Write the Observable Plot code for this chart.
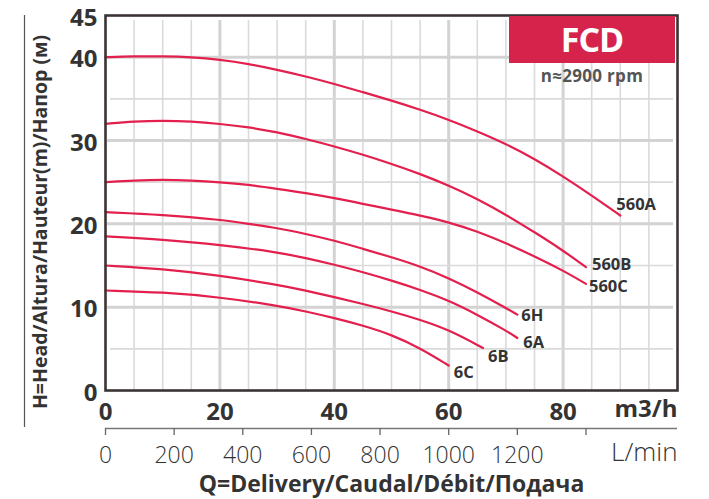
<!DOCTYPE html>
<html>
<head>
<meta charset="utf-8">
<script src="https://cdn.jsdelivr.net/npm/d3@7"></script>
<script src="https://cdn.jsdelivr.net/npm/@observablehq/plot@0.6"></script>
<style>
  body { margin: 0; background: #fff; }
  #wrap { position: relative; width: 709px; height: 499px; font-family: "Open Sans", sans-serif; }
  #badge { position: absolute; left: 509px; top: 16px; width: 166px; height: 47px; background: #d6234b;
           color: #fff; font-weight: 700; font-size: 34px; letter-spacing: -1px; text-align: center; line-height: 47px; z-index: 2; }
  #rpm { position: absolute; left: 509px; top: 64px; width: 166px; text-align: center; font-weight: 700;
         font-size: 17px; letter-spacing: 0.3px; color: #555; z-index: 2; }
</style>
</head>
<body>
<div id="wrap"><div id="badge">FCD</div><div id="rpm">n≈2900 rpm</div></div>
<script>
// ---- data (Q in m3/h, H in m) ----
const q560A = [0, 5, 10, 15, 20, 25, 30, 35, 40, 45, 50, 55, 60, 65, 70, 75, 80, 85, 90];
const h560A = [40.0, 40.1, 40.1, 40.0, 39.7, 39.2, 38.5, 37.7, 36.8, 35.8, 34.8, 33.7, 32.5, 31.1, 29.6, 27.8, 25.7, 23.4, 21.0];
const q560B = [0, 5, 10, 15, 20, 25, 30, 35, 40, 45, 50, 55, 60, 65, 70, 75, 80, 84];
const h560B = [32.0, 32.3, 32.4, 32.3, 32.0, 31.6, 31.0, 30.2, 29.3, 28.3, 27.2, 26.0, 24.6, 23.0, 21.1, 19.0, 16.8, 14.8];
const q560C = [0, 5, 10, 15, 20, 25, 30, 35, 40, 45, 50, 55, 60, 65, 70, 75, 80, 84];
const h560C = [25.0, 25.2, 25.3, 25.2, 25.0, 24.7, 24.2, 23.7, 23.1, 22.4, 21.7, 21.0, 20.2, 19.1, 17.7, 16.1, 14.4, 12.8];
const q6H = [0, 10, 20, 25, 30, 35, 40, 45, 50, 55, 60, 65, 70, 72];
const h6H = [21.4, 21.1, 20.5, 20.0, 19.5, 18.8, 18.0, 17.0, 16.0, 14.9, 13.5, 11.8, 9.9, 9.1];
const q6A = [0, 10, 20, 30, 35, 40, 45, 50, 55, 60, 65, 70, 72];
const h6A = [18.5, 18.1, 17.5, 16.6, 15.9, 15.1, 14.2, 13.2, 12.1, 10.8, 9.1, 7.2, 6.3];
const q6B = [0, 10, 20, 30, 35, 40, 45, 50, 55, 60, 66];
const h6B = [15.0, 14.6, 13.8, 12.7, 12.0, 11.2, 10.4, 9.5, 8.5, 7.3, 5.1];
const q6C = [0, 10, 20, 30, 35, 40, 45, 50, 55, 60];
const h6C = [12.0, 11.8, 11.2, 10.2, 9.5, 8.7, 7.8, 6.7, 5.1, 3.0];

const models = ["560A", "560B", "560C", "6H", "6A", "6B", "6C"];
const flows = [q560A, q560B, q560C, q6H, q6A, q6B, q6C];
const heads = [h560A, h560B, h560C, h6H, h6A, h6B, h6C];

const qTicks = [0, 20, 40, 60, 80];
const hTicks = [0, 10, 20, 30, 40, 45];
const lminTicks = [0, 200, 400, 600, 800, 1000, 1200, 1400];
const lminLabelled = [0, 200, 400, 600, 800, 1000, 1200];
const qGridMinor = [5, 10, 15, 25, 30, 35, 45, 50, 55, 65, 70, 75, 85, 90, 95];
const qGridMajor = [20, 40, 60, 80];
const hGridMinor = [5, 15, 25, 35];
const hGridMajor = [10, 20, 30, 40];

// ---- build tables ----
const curves = models.flatMap((m, i) => flows[i].map((q, j) => ({model: m, q, h: heads[i][j]})));
const ends = models.map((m, i) => ({model: m, q: flows[i][flows[i].length - 1], h: heads[i][heads[i].length - 1]}));

// label offsets (styling)
const labelOffset = {"560A": [-4, -11], "560B": [6, -2], "560C": [3, 3], "6H": [4, 1], "6A": [6, 5], "6B": [5, 9], "6C": [5, 7]};

const red = "#e3204d";
const ink = "#333";
const L_PER_M3H = 1000 / 60;

const labelMarks = ends.map(e => Plot.text([e], {
  x: "q", y: "h", text: "model", textAnchor: "start", lineAnchor: "middle",
  dx: labelOffset[e.model][0], dy: labelOffset[e.model][1],
  fontSize: 16.5, fontWeight: 700, fill: ink, letterSpacing: -0.3
}));

const chart = Plot.plot({
  width: 709, height: 499,
  marginLeft: 105, marginRight: 32, marginTop: 15, marginBottom: 109,
  x: {domain: [0, 100], axis: null},
  y: {domain: [0, 45], axis: null},
  style: {fontFamily: "'Open Sans', sans-serif", background: "#fff", overflow: "visible"},
  marks: [
    Plot.ruleX(qGridMinor, {stroke: "#dadada", strokeWidth: 1.6, insetTop: 5}),
    Plot.ruleX(qGridMajor, {stroke: "#d3d3d3", strokeWidth: 3, insetTop: 5}),
    Plot.ruleY(hGridMinor, {stroke: "#dadada", strokeWidth: 1.6, insetLeft: 5, insetRight: 4}),
    Plot.ruleY(hGridMajor, {stroke: "#d3d3d3", strokeWidth: 3, insetLeft: 2, insetRight: 4}),
    Plot.line(curves, {x: "q", y: "h", z: "model", stroke: red, strokeWidth: 2.2, curve: "basis"}),
    ...labelMarks,
    Plot.frame({stroke: "#3b3434", strokeWidth: 2.6}),
    // primary axes
    Plot.axisY({ticks: hTicks, tickSize: 0, tickPadding: 8, dy: 2.5, fontSize: 24, fontWeight: 700, fill: ink, label: null, letterSpacing: -0.5}),
    Plot.axisX({ticks: qTicks, tickSize: 0, tickPadding: 12, fontSize: 24, fontWeight: 700, fill: ink, label: null, letterSpacing: -0.5}),
    Plot.text(["m3/h"], {frameAnchor: "bottom-right", textAnchor: "end", lineAnchor: "top", dy: 9, fontSize: 24, fontWeight: 700, fill: ink, letterSpacing: -0.5}),
    // secondary L/min axis
    Plot.ruleY([0], {dy: 38, stroke: "#777", strokeWidth: 1.5}),
    Plot.axisX({
      ticks: lminTicks.map(l => l / L_PER_M3H),
      tickFormat: d => { const l = Math.round(d * L_PER_M3H); return lminLabelled.includes(l) ? String(l) : ""; },
      tickSize: 7, tickPadding: 11, dy: 38, stroke: "#666", strokeWidth: 1.3,
      fontSize: 23, fontWeight: 300, fill: ink, label: null, letterSpacing: -0.8
    }),
    Plot.text(["L/min"], {frameAnchor: "bottom-right", textAnchor: "end", lineAnchor: "top", dy: 52, fontSize: 26, fontWeight: 300, fill: ink}),
    // titles
    Plot.text(["Q=Delivery/Caudal/Débit/Подача"], {frameAnchor: "bottom", lineAnchor: "top", dy: 85, fontSize: 23, fontWeight: 700, fill: ink, letterSpacing: 0.8}),
    Plot.text(["H=Head/Altura/Hauteur(m)/Напор (м)"], {frameAnchor: "left", textAnchor: "middle", rotate: -90, dx: -65, dy: 19, fontSize: 19.5, fontWeight: 700, fill: ink, letterSpacing: -0.3}),
    Plot.ruleX([0], {dx: -81, insetBottom: -37, stroke: "#555", strokeWidth: 1.2})
  ]
});

document.getElementById("wrap").prepend(chart);
</script>
</body>
</html>
